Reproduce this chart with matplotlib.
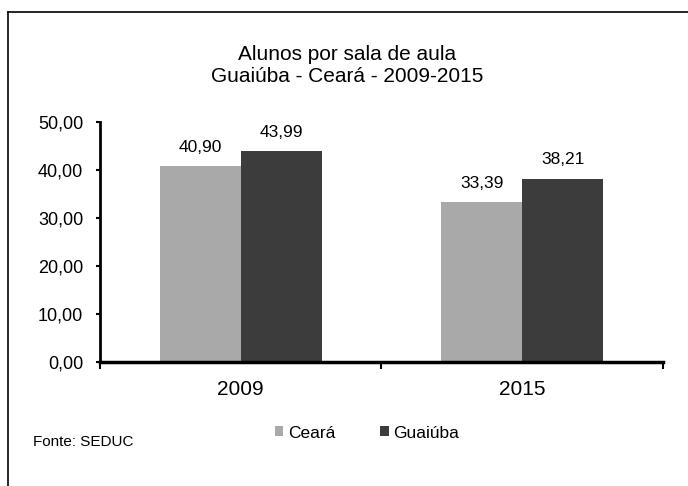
import matplotlib.pyplot as plt
import numpy as np
from matplotlib.lines import Line2D
from matplotlib.ticker import FuncFormatter

# dados do grafico
anos = ['2009', '2015']
ceara = [40.90, 33.39]
guaiuba = [43.99, 38.21]
series = ['Ceará', 'Guaiúba']
cores = ['#a9a9a9', '#3c3c3c']

plt.rcParams['font.family'] = ['Liberation Sans', 'DejaVu Sans']

fig = plt.figure(figsize=(6.88, 4.86), dpi=100)
ax = fig.add_axes([0.1453, 0.2551, 0.8184, 0.4939])

# moldura do grafico (scan)
fig.add_artist(Line2D([8 / 688, 8 / 688], [0, 1 - 12 / 486], transform=fig.transFigure,
                      color='black', lw=1.2))
fig.add_artist(Line2D([8 / 688, 1], [1 - 12 / 486, 1 - 12 / 486], transform=fig.transFigure,
                      color='black', lw=1.2))

x = np.arange(len(anos))
w = 0.288
b1 = ax.bar(x - w / 2, ceara, width=w, color=cores[0], label=series[0])
b2 = ax.bar(x + w / 2, guaiuba, width=w, color=cores[1], label=series[1])

fmt = lambda v: f'{v:.2f}'.replace('.', ',')
for barras, vals in [(b1, ceara), (b2, guaiuba)]:
    for r, v in zip(barras, vals):
        ax.annotate(fmt(v), (r.get_x() + r.get_width() / 2, v), xytext=(0, 8),
                    textcoords='offset points', ha='center', va='bottom', fontsize=12.5)

ax.set_xlim(-0.5, 1.5)
ax.set_ylim(0, 50)
ax.set_yticks(np.arange(0, 51, 10))
ax.yaxis.set_major_formatter(FuncFormatter(lambda v, p: fmt(v)))
ax.set_xticks(x)
ax.set_xticklabels(anos, fontsize=15)
ax.set_xticks([-0.5, 0.5, 1.5], minor=True)
ax.tick_params(axis='x', which='major', length=0, pad=13)
ax.tick_params(axis='x', which='minor', length=5, width=1.5, direction='out')
ax.tick_params(axis='y', length=3, width=1.5, labelsize=13, pad=9)
for s in ['top', 'right']:
    ax.spines[s].set_visible(False)
ax.spines['left'].set_linewidth(2)
ax.spines['bottom'].set_linewidth(2.5)

fig.text(347 / 688, 1 - 65.5 / 486, 'Alunos por sala de aula\nGuaiúba - Ceará - 2009-2015',
         ha='center', va='center', fontsize=15, linespacing=1.15)

fig.legend(handles=[b1, b2], labels=series, loc='center', bbox_to_anchor=(367 / 688, 1 - 433 / 486),
           ncol=2, frameon=False, fontsize=12.5, handlelength=0.5, handleheight=0.5,
           handletextpad=0.25, columnspacing=2.6)

fig.text(33 / 688, 1 - 442 / 486, 'Fonte: SEDUC', ha='left', va='center', fontsize=11)

plt.savefig('out.png', dpi=100)
